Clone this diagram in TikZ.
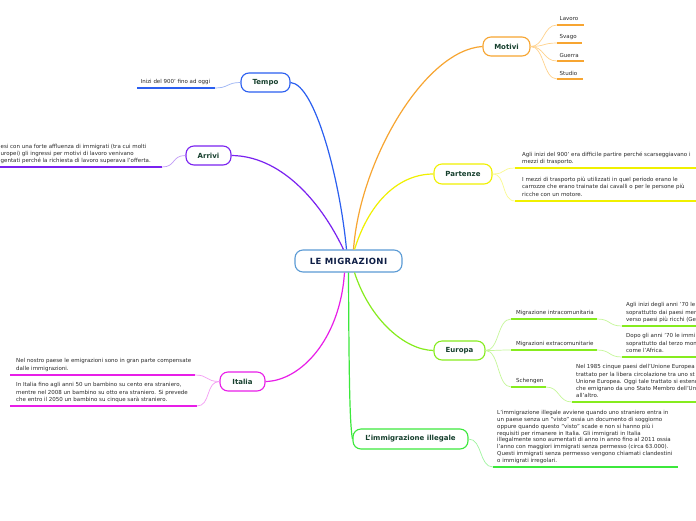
\documentclass[tikz,border=0pt]{standalone}
\usepackage{fontspec}
\setmainfont{DejaVu Sans}
\definecolor{cOr}{HTML}{F7A531}
\definecolor{cOrL}{HTML}{FFD28C}
\definecolor{cBl}{HTML}{2B5FF0}
\definecolor{cBlL}{HTML}{9AB3F5}
\definecolor{cPu}{HTML}{7A22F0}
\definecolor{cPuL}{HTML}{C19BF7}
\definecolor{cYe}{HTML}{F0F000}
\definecolor{cYeL}{HTML}{FAFA90}
\definecolor{cLi}{HTML}{86EC1E}
\definecolor{cLiL}{HTML}{C6F79A}
\definecolor{cMa}{HTML}{E81EE8}
\definecolor{cMaL}{HTML}{F49CF4}
\definecolor{cGr}{HTML}{3CE83C}
\definecolor{cGrL}{HTML}{A0F5A0}
\definecolor{cCe}{HTML}{5B9BD5}
\definecolor{nodetxt}{HTML}{17402E}
\definecolor{smalltxt}{HTML}{2A2A2A}
\definecolor{centtxt}{HTML}{0E1E45}
\begin{document}
\begin{tikzpicture}[x=1pt,y=-1pt,
  box/.style={draw=#1, rounded corners=8pt, line width=1.1pt, fill=white, inner sep=0pt, minimum height=19pt, font=\fontsize{7}{8}\selectfont\bfseries, text=nodetxt},
  small/.style={inner sep=0pt, align=left, anchor=north west, font=\fontsize{5.5}{7.2}\selectfont, text=smalltxt},
  lbl/.style={inner sep=0pt, anchor=west, font=\fontsize{5.5}{6}\selectfont, text=smalltxt},
  ul/.style={line width=2.2pt, draw=#1},
  conn/.style={line width=0.7pt, draw=#1},
  branch/.style={line width=1.2pt, draw=#1}]
\clip (0,0) rectangle (696,520);
\fill[white] (0,0) rectangle (696,520);

% ---------- boxes ----------
\node[box=cCe, minimum width=107pt, minimum height=22pt, font=\fontsize{8.5}{9}\selectfont\bfseries\addfontfeature{LetterSpace=5}, text=centtxt] (center) at (348.5,261) {LE MIGRAZIONI};
\node[box=cOr, minimum width=47pt] (motivi) at (506.5,46.5) {Motivi};
\node[box=cBl, minimum width=49pt] (tempo) at (265.5,82.5) {Tempo};
\node[box=cPu, minimum width=45pt] (arrivi) at (208.5,155.5) {Arrivi};
\node[box=cYe, minimum width=58pt, minimum height=20pt] (partenze) at (463,174) {Partenze};
\node[box=cLi, minimum width=51pt] (europa) at (459.5,350.5) {Europa};
\node[box=cMa, minimum width=45pt] (italia) at (242.5,381.5) {Italia};
\node[box=cGr, minimum width=115pt, minimum height=20pt] (illegale) at (410.5,439) {L'immigrazione illegale};

% ---------- main branches ----------
\draw[branch=cOr] ([xshift=5pt]center.north) .. controls (360,160) and (425,50) .. (motivi.west);
\draw[branch=cBl] ([xshift=-2pt]center.north) .. controls (340,180) and (315,84) .. (tempo.east);
\draw[branch=cPu] ([xshift=-5pt]center.north) .. controls (320,200) and (280,156) .. (arrivi.east);
\draw[branch=cYe] ([xshift=6pt]center.north) .. controls (370,200) and (400,174) .. (partenze.west);
\draw[branch=cLi] ([xshift=6pt]center.south) .. controls (370,320) and (405,350) .. (europa.west);
\draw[branch=cMa] ([xshift=-4pt]center.south) .. controls (340,340) and (300,381) .. (italia.east);
\draw[branch=cGr] (center.south) .. controls (349,390) and (350,425) .. (illegale.west);

% ---------- Motivi ----------
\node[lbl] (lavoro) at (559.5,19) {Lavoro};
\node[lbl] (svago) at (559.5,37) {Svago};
\node[lbl] (guerra) at (559.5,55) {Guerra};
\node[lbl] (studio) at (559.5,73) {Studio};
\coordinate (lav1) at (557,25); \coordinate (lav2) at (584,25);
\coordinate (sva1) at (557,43); \coordinate (sva2) at (582,43);
\coordinate (gue1) at (557,61); \coordinate (gue2) at (584,61);
\coordinate (stu1) at (557,79); \coordinate (stu2) at (583,79);
\foreach \a in {lav,sva,gue,stu}{
  \draw[conn=cOrL] (motivi.east) .. controls +(14,0) and +(-14,0) .. (\a1);
  \draw[ul=cOr] (\a1) -- (\a2);
}

% ---------- Tempo ----------
\node[lbl] (tempot) at (140.5,82) {Inizi del 900' fino ad oggi};
\coordinate (tem1) at (137,88); \coordinate (tem2) at (215,88);
\draw[ul=cBl] (tem1) -- (tem2);
\draw[conn=cBlL] (tempo.west) .. controls +(-14,0) and +(14,0) .. (tem2);

% ---------- Arrivi ----------
\node[small, font=\fontsize{5.5}{7}\selectfont] (arrivit) at (0.5,144.5) {esi con una forte affluenza di immigrati (tra cui molti\\uropei) gli ingressi per motivi di lavoro venivano\\gentati perché la richiesta di lavoro superava l'offerta.};
\coordinate (arr1) at (-5,167); \coordinate (arr2) at (162,167);
\draw[ul=cPu] (arr1) -- (arr2);
\draw[conn=cPuL] (arrivi.west) .. controls +(-14,0) and +(14,0) .. (arr2);

% ---------- Partenze ----------
\node[small, font=\fontsize{5.5}{7.8}\selectfont] (part1) at (522,151.5) {Agli inizi del 900' era difficile partire perché scarseggiavano i\\mezzi di trasporto.};
\node[small, font=\fontsize{5.5}{7.8}\selectfont] (part2) at (522,176.5) {I mezzi di trasporto più utilizzati in quel periodo erano le\\carrozze che erano trainate dai cavalli o per le persone più\\ricche con un motore.};
\coordinate (pa1) at (515,168); \coordinate (pa2) at (700,168);
\coordinate (pb1) at (515,201); \coordinate (pb2) at (700,201);
\draw[ul=cYe] (pa1) -- (pa2);
\draw[ul=cYe] (pb1) -- (pb2);
\draw[conn=cYeL] (partenze.east) .. controls +(14,0) and +(-14,0) .. (pa1);
\draw[conn=cYeL] (partenze.east) .. controls +(14,0) and +(-14,0) .. (pb1);

% ---------- Europa ----------
\node[lbl] (intra) at (516,313) {Migrazione intracomunitaria};
\node[lbl] (extra) at (516,344) {Migrazioni extracomunitarie};
\node[lbl] (scheng) at (516,381) {Schengen};
\coordinate (ea1) at (511,319); \coordinate (ea2) at (597,319);
\coordinate (eb1) at (511,350); \coordinate (eb2) at (597,350);
\coordinate (ec1) at (511,387); \coordinate (ec2) at (546,387);
\draw[ul=cLi] (ea1) -- (ea2);
\draw[ul=cLi] (eb1) -- (eb2);
\draw[ul=cLi] (ec1) -- (ec2);
\draw[conn=cLiL] (europa.east) .. controls +(14,0) and +(-14,0) .. (ea1);
\draw[conn=cLiL] (europa.east) .. controls +(14,0) and +(-14,0) .. (eb1);
\draw[conn=cLiL] (europa.east) .. controls +(14,0) and +(-14,0) .. (ec1);

\node[small] (intrat) at (626,302.5) {Agli inizi degli anni '70 le\\soprattutto dai paesi mer\\verso paesi più ricchi (Ge};
\coordinate (fa1) at (622,326); \coordinate (fa2) at (700,326);
\draw[ul=cLi] (fa1) -- (fa2);
\draw[conn=cLiL] (ea2) .. controls +(14,0) and +(-14,0) .. (fa1);

\node[small] (extrat) at (626,333.5) {Dopo gli anni '70 le immi\\soprattutto dal terzo mon\\come l'Africa.};
\coordinate (fb1) at (622,357); \coordinate (fb2) at (700,357);
\draw[ul=cLi] (fb1) -- (fb2);
\draw[conn=cLiL] (eb2) .. controls +(14,0) and +(-14,0) .. (fb1);

\node[small] (schengt) at (576,364.5) {Nel 1985 cinque paesi dell'Unione Europea\\trattato per la libera circolazione tra uno st\\Unione Europea. Oggi tale trattato si estend\\che emigrano da uno Stato Membro dell'Un\\all'altro.};
\coordinate (fc1) at (572,402); \coordinate (fc2) at (700,402);
\draw[ul=cLi] (fc1) -- (fc2);
\draw[conn=cLiL] (ec2) .. controls +(14,0) and +(-14,0) .. (fc1);

% ---------- Italia ----------
\node[small] (ita1) at (16,358.5) {Nel nostro paese le emigrazioni sono in gran parte compensate\\dalle immigrazioni.};
\node[small] (ita2) at (16,382.5) {In Italia fino agli anni 50 un bambino su cento era straniero,\\mentre nel 2008 un bambino su otto era straniero. Si prevede\\che entro il 2050 un bambino su cinque sarà straniero.};
\coordinate (ia1) at (10,375); \coordinate (ia2) at (195,375);
\coordinate (ib1) at (10,406); \coordinate (ib2) at (197,406);
\draw[ul=cMa] (ia1) -- (ia2);
\draw[ul=cMa] (ib1) -- (ib2);
\draw[conn=cMaL] (italia.west) .. controls +(-14,0) and +(14,0) .. (ia2);
\draw[conn=cMaL] (italia.west) .. controls +(-14,0) and +(14,0) .. (ib2);

% ---------- Immigrazione illegale ----------
\node[small, font=\fontsize{5.5}{6.75}\selectfont] (illt) at (497,410.5) {L'immigrazione illegale avviene quando uno straniero entra in\\un paese senza un "visto" ossia un documento di soggiorno\\oppure quando questo "visto" scade e non si hanno più i\\requisiti per rimanere in Italia. Gli immigrati in Italia\\illegalmente sono aumentati di anno in anno fino al 2011 ossia\\l'anno con maggiori immigrati senza permesso (circa 63.000).\\Questi immigrati senza permesso vengono chiamati clandestini\\o immigrati irregolari.};
\coordinate (ga1) at (493,467); \coordinate (ga2) at (678,467);
\draw[ul=cGr] (ga1) -- (ga2);
\draw[conn=cGrL] (illegale.east) .. controls +(14,0) and +(-14,0) .. (ga1);
\end{tikzpicture}
\end{document}
